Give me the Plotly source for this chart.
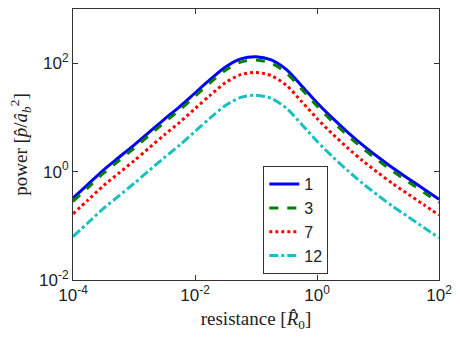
import plotly.graph_objects as go

# resistance (log-spaced sample points, 10^-4 .. 10^2)
resistance = [1e-4, 1.778e-4, 3.162e-4, 5.623e-4, 1e-3, 1.778e-3, 3.162e-3, 5.623e-3,
              1e-2, 1.778e-2, 3.162e-2, 5.623e-2, 1e-1, 1.778e-1, 3.162e-1, 5.623e-1,
              1.0, 1.778, 3.162, 5.623, 10.0, 17.78, 31.62, 56.23, 100.0]

power_1 = [0.324, 0.589, 1.07, 1.82, 3.09, 5.37, 9.33, 15.8, 28.2, 50.1, 85.1, 120, 132,
           115, 75.9, 38.0, 18.6, 9.77, 5.37, 3.09, 1.86, 1.15, 0.741, 0.479, 0.309]
power_3 = [0.282, 0.513, 0.933, 1.58, 2.69, 4.68, 8.13, 13.8, 24.5, 43.7, 74.1, 105, 115,
           100, 66.1, 33.1, 16.2, 8.51, 4.68, 2.69, 1.62, 1.00, 0.646, 0.417, 0.269]
power_7 = [0.166, 0.302, 0.550, 0.933, 1.58, 2.75, 4.79, 8.13, 14.5, 25.7, 43.7, 61.7, 67.6,
           58.9, 38.9, 19.5, 9.55, 5.01, 2.75, 1.58, 0.955, 0.589, 0.380, 0.245, 0.158]
power_12 = [0.0631, 0.115, 0.209, 0.355, 0.603, 1.05, 1.82, 3.09, 5.50, 9.77, 16.6, 23.4, 25.7,
            22.4, 14.8, 7.41, 3.63, 1.91, 1.05, 0.603, 0.363, 0.224, 0.145, 0.0933, 0.0603]

series_names = ["1", "3", "7", "12"]
series_values = [power_1, power_3, power_7, power_12]
colors = ["#0000FF", "#007F00", "#FF0000", "#1ABFBF"]
dashes = ["solid", "dash", "dot", "dashdot"]

x_tickvals = [1e-4, 1e-2, 1, 100]
x_ticktext = ["10<sup>-4</sup>", "10<sup>-2</sup>", "10<sup>0</sup>", "10<sup>2</sup>"]
y_tickvals = [1e-2, 1, 100]
y_ticktext = ["10<sup>-2</sup>", "10<sup>0</sup>", "10<sup>2</sup>"]

fig = go.Figure()
for name, vals, col, dsh in zip(series_names, series_values, colors, dashes):
    fig.add_trace(go.Scatter(
        x=resistance, y=vals, mode="lines", name=name,
        line=dict(color=col, width=3, dash=dsh, shape="spline", smoothing=0.8),
    ))

axis_common = dict(
    type="log", showgrid=False, zeroline=False,
    showline=True, linecolor="#333333", linewidth=1, mirror="ticks",
    ticks="inside", ticklen=5, tickcolor="#333333",
    tickfont=dict(family="Liberation Sans, Arial, sans-serif", size=17, color="#222222"),
)

fig.update_layout(
    width=460, height=339,
    margin=dict(l=73, r=16, t=8, b=59),
    paper_bgcolor="white", plot_bgcolor="white",
    xaxis=dict(axis_common, range=[-4, 2], tickvals=x_tickvals, ticktext=x_ticktext,
               title=dict(text="resistance [<i>R̂</i><sub>0</sub>]",
                          font=dict(family="Liberation Serif, serif", size=19, color="#222222"),
                          standoff=7)),
    yaxis=dict(axis_common, range=[-2, 3], tickvals=y_tickvals, ticktext=y_ticktext,
               title=dict(text="power [<i>p̂</i>/<i>â</i><sub><i>b</i></sub><sup>2</sup>]",
                          font=dict(family="Liberation Serif, serif", size=19, color="#222222"),
                          standoff=6)),
    legend=dict(x=0.52, y=0.42, xanchor="left", yanchor="top",
                bgcolor="white", bordercolor="#333333", borderwidth=1,
                font=dict(family="Liberation Sans, Arial, sans-serif", size=16, color="#222222"),
                tracegroupgap=0),
    showlegend=True,
)

fig.write_html("out.html")
